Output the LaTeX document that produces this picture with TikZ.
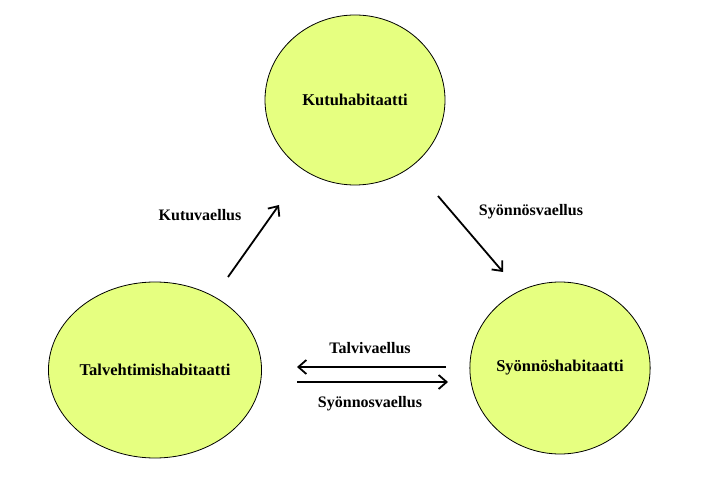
\documentclass[tikz,border=0pt]{standalone}
\usepackage{fontspec}
\setmainfont{Liberation Serif}
\usetikzlibrary{shapes.geometric,arrows.meta}
\begin{document}
\begin{tikzpicture}[x=1pt,y=-1pt,
  hab/.style={ellipse,draw=black,line width=0.8pt,fill=lime1,font=\bfseries\fontsize{16.5}{19}\selectfont,inner sep=0pt},
  arr/.style={line width=1.8pt,-{Straight Barb[length=8pt,width=14pt]}},
  lbl/.style={font=\bfseries\fontsize{16}{19}\selectfont}]
\definecolor{lime1}{HTML}{E6FF80}
\useasboundingbox (0,0) rectangle (725,478);
\node[hab,minimum width=180pt,minimum height=170pt] (k) at (355,100) {Kutuhabitaatti};
\node[hab,minimum width=172pt,minimum height=176pt] (t) at (155,370) {Talvehtimishabitaatti};
\node[hab,minimum width=164pt,minimum height=172pt] (s) at (560,368) {Syönnöshabitaatti};
\coordinate (a1) at (228,277); \coordinate (a2) at (279,205);
\coordinate (b1) at (438,196); \coordinate (b2) at (503,272);
\coordinate (c1) at (446,367); \coordinate (c2) at (297,367);
\coordinate (d1) at (297,382); \coordinate (d2) at (448,382);
\draw[arr] (a1) -- (a2);
\draw[arr] (b1) -- (b2);
\draw[arr] (c1) -- (c2);
\draw[arr] (d1) -- (d2);
\node[lbl] (l1) at (200,215) {Kutuvaellus};
\node[lbl] (l2) at (531,212) {Syönnösvaellus};
\node[lbl] (l3) at (370,348) {Talvivaellus};
\node[lbl] (l4) at (370,404) {Syönnosvaellus};
\end{tikzpicture}
\end{document}
